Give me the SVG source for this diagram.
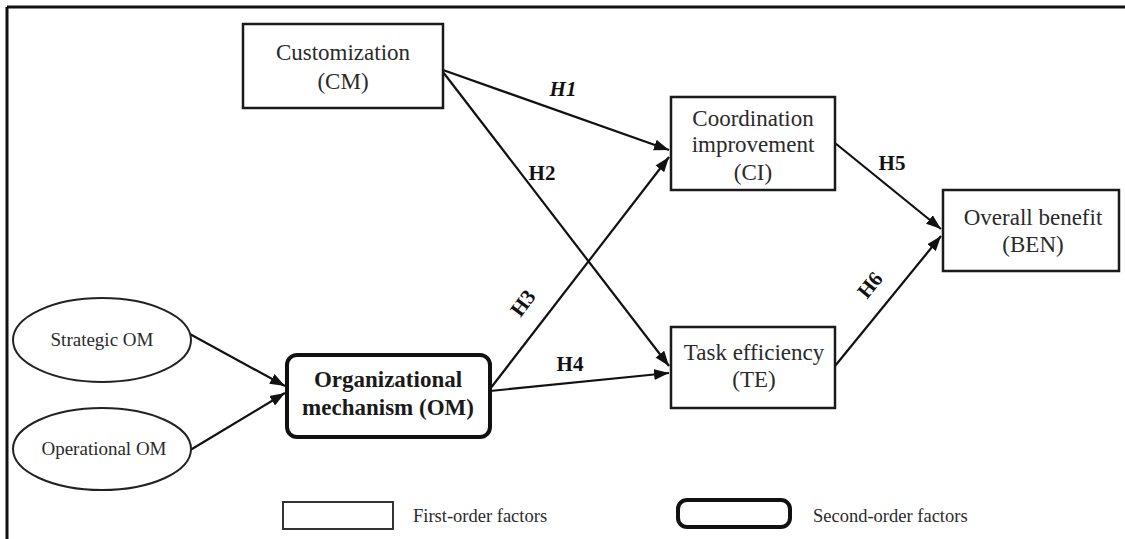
<svg xmlns="http://www.w3.org/2000/svg" width="1125" height="539" viewBox="0 0 1125 539">
<style>
.box{fill:#fff;stroke:#1a1a1a;stroke-width:2.5}
.box2{fill:#fff;stroke:#111;stroke-width:4}
.ell{fill:#fff;stroke:#222;stroke-width:2}
.t{font-family:"Liberation Serif",serif;font-size:23px;fill:#2a2a2a;text-anchor:middle}
.tb{font-family:"Liberation Serif",serif;font-size:23px;font-weight:bold;fill:#1a1a1a;text-anchor:middle}
.ts{font-family:"Liberation Serif",serif;font-size:19px;fill:#2a2a2a;text-anchor:middle}
.tl{font-family:"Liberation Serif",serif;font-size:18.5px;fill:#2a2a2a}
.h{font-family:"Liberation Serif",serif;font-size:21px;font-weight:bold;fill:#111;text-anchor:middle}
.c{stroke:#111;stroke-width:2.2;fill:none;marker-end:url(#ah)}
</style>
<defs>
<marker id="ah" markerUnits="userSpaceOnUse" markerWidth="16" markerHeight="12" refX="15" refY="6" orient="auto">
<path d="M0,0.5 L15,6 L0,11.5 z" fill="#111"/>
</marker>
</defs>
<rect width="1125" height="539" fill="#fff"/>
<g id="frame">
<line x1="7" y1="7" x2="1125" y2="7" stroke="#111" stroke-width="3"/>
<line x1="7" y1="7" x2="7" y2="539" stroke="#111" stroke-width="3"/>
</g>
<g id="connectors">
<line class="c" x1="443" y1="70" x2="669" y2="150"/>
<line class="c" x1="443" y1="72" x2="669" y2="366"/>
<line class="c" x1="490" y1="389" x2="669" y2="157"/>
<line class="c" x1="490" y1="391" x2="669" y2="373"/>
<line class="c" x1="835" y1="143" x2="941" y2="229"/>
<line class="c" x1="835" y1="366" x2="941" y2="236"/>
<line class="c" x1="188" y1="333" x2="285" y2="386"/>
<line class="c" x1="187" y1="452" x2="285" y2="393"/>
<text class="h" x="563" y="96" font-style="italic">H1</text>
<text class="h" x="542" y="180">H2</text>
<text class="h" transform="translate(523,303) rotate(-53)" y="7">H3</text>
<text class="h" x="570" y="371">H4</text>
<text class="h" x="892" y="170">H5</text>
<text class="h" transform="translate(870,285) rotate(-51)" y="7">H6</text>
</g>
<g id="cm">
<rect class="box" x="243" y="24" width="200" height="84"/>
<text class="t" x="343" y="60">Customization</text>
<text class="t" x="343" y="89">(CM)</text>
</g>
<g id="ci">
<rect class="box" x="671" y="97" width="164" height="93"/>
<text class="t" x="753" y="126">Coordination</text>
<text class="t" x="753" y="152">improvement</text>
<text class="t" x="753" y="180">(CI)</text>
</g>
<g id="ben">
<rect class="box" x="943" y="190" width="176" height="81"/>
<text class="t" x="1033" y="225">Overall benefit</text>
<text class="t" x="1033" y="252">(BEN)</text>
</g>
<g id="te">
<rect class="box" x="671" y="327" width="164" height="81"/>
<text class="t" x="754" y="360">Task efficiency</text>
<text class="t" x="754" y="387">(TE)</text>
</g>
<g id="om">
<rect class="box2" x="287" y="355" width="203" height="82" rx="10"/>
<text class="tb" x="388" y="387">Organizational</text>
<text class="tb" x="388" y="415">mechanism (OM)</text>
</g>
<g id="som">
<ellipse class="ell" cx="102" cy="340" rx="89" ry="42"/>
<text class="ts" x="102" y="346">Strategic  OM</text>
</g>
<g id="oom">
<ellipse class="ell" cx="102" cy="449" rx="89" ry="41"/>
<text class="ts" x="104" y="455">Operational OM</text>
</g>
<g id="legend">
<rect x="283" y="502" width="110" height="27" fill="#fff" stroke="#333" stroke-width="2"/>
<text class="tl" x="413" y="522">First-order factors</text>
<rect x="678" y="500" width="112" height="27" rx="9" fill="#fff" stroke="#111" stroke-width="4"/>
<text class="tl" x="813" y="522">Second-order factors</text>
</g>
</svg>
